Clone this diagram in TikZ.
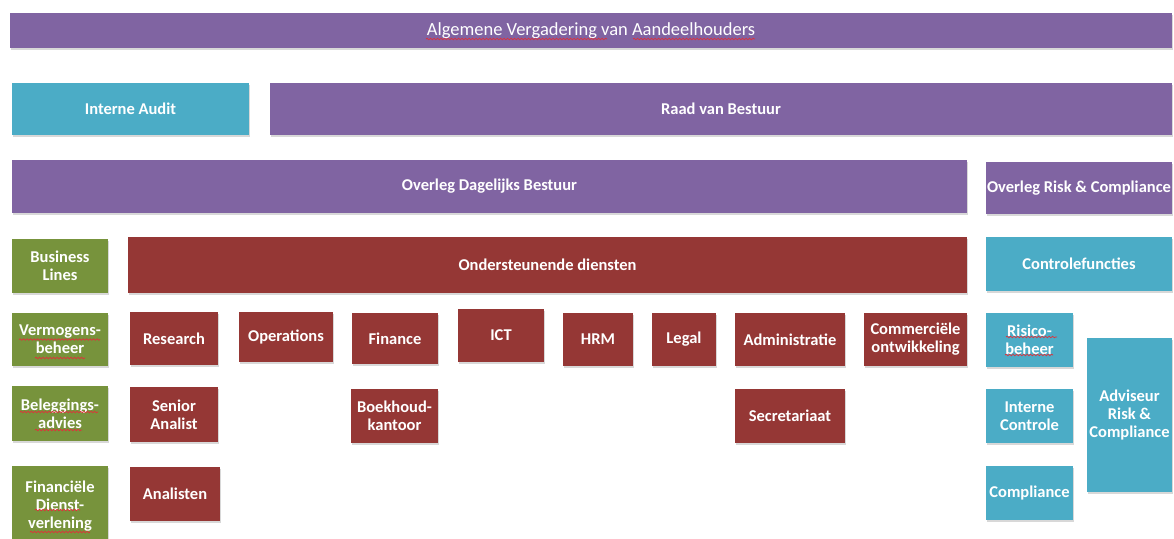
\documentclass[tikz,border=0pt]{standalone}
\usepackage{fontspec}
\setmainfont{Carlito}
\usetikzlibrary{shadows, decorations.pathmorphing}
\definecolor{paars}{HTML}{8064A2}
\definecolor{blauw}{HTML}{4BACC6}
\definecolor{groen}{HTML}{77933C}
\definecolor{rood}{HTML}{953735}
\definecolor{spelrood}{HTML}{E0303A}
\tikzset{
  blok/.style={rectangle, inner sep=1pt, text=white, align=center,
    font=\bfseries\fontsize{16.5}{18}\selectfont,
    drop shadow={shadow xshift=1pt, shadow yshift=-2pt, opacity=0.3}},
  wh/.style n args={2}{minimum width=#1, minimum height=#2},
  % rode kronkel van de spellingcontrole
  kronkel/.style={draw=spelrood, line width=0.7pt, decorate,
    decoration={snake, segment length=3.5pt, amplitude=0.8pt}},
}
\begin{document}
\begin{tikzpicture}[x=1pt, y=-1pt]
  \useasboundingbox[fill=white] (0,0) rectangle (1174,538);
  % bestuur
  \node[blok, fill=paars, wh={1162}{35}, font=\fontsize{18.5}{20}\selectfont] (avg) at (591,30.5) {Algemene Vergadering van Aandeelhouders};
  \node[blok, fill=blauw, wh={237}{52}] (audit) at (130.5,109) {Interne Audit};
  \node[blok, fill=paars, wh={902}{52}] (rvb) at (721,109) {Raad van Bestuur};
  \node[blok, fill=paars, wh={955}{53}] (odb) at (489.5,186.5) {Overleg Dagelijks Bestuur};
  \node[blok, fill=paars, wh={186}{52}] (orc) at (1079,188) {Overleg Risk \& Compliance};
  % kopjes
  \node[blok, fill=groen, wh={96}{54}] (lines) at (60,266) {Business\\Lines};
  \node[blok, fill=rood, wh={839}{56}] (diensten) at (547.5,265) {Ondersteunende diensten};
  \node[blok, fill=blauw, wh={186}{54}] (controle) at (1079,264) {Controlefuncties};
  % business lines
  \node[blok, fill=groen, wh={96}{53}] (verm) at (60,339.5) {Vermogens-\\beheer};
  \node[blok, fill=groen, wh={96}{55}] (beleg) at (60,413.5) {Beleggings-\\advies};
  \node[blok, fill=groen, wh={96}{80}] (fds) at (60,506) {Financi\"ele\\Dienst-\\verlening};
  % ondersteunende diensten
  \node[blok, fill=rood, wh={88}{53}] (research) at (174,338.5) {Research};
  \node[blok, fill=rood, wh={94}{50}] (operations) at (286,337) {Operations};
  \node[blok, fill=rood, wh={86}{51}] (finance) at (395,338.5) {Finance};
  \node[blok, fill=rood, wh={86}{53}] (ict) at (501,335.5) {ICT};
  \node[blok, fill=rood, wh={70}{53}] (hrm) at (598,339.5) {HRM};
  \node[blok, fill=rood, wh={64}{53}] (legal) at (684,339.5) {Legal};
  \node[blok, fill=rood, wh={110}{53}] (admin) at (790,339.5) {Administratie};
  \node[blok, fill=rood, wh={103}{53}] (comm) at (915.5,339.5) {Commerci\"ele\\ontwikkeling};
  \node[blok, fill=rood, wh={88}{55}] (senior) at (174,414.5) {Senior\\Analist};
  \node[blok, fill=rood, wh={90}{54}] (analisten) at (175,494) {Analisten};
  \node[blok, fill=rood, wh={87}{54}] (boekh) at (394.5,416) {Boekhoud-\\kantoor};
  \node[blok, fill=rood, wh={110}{54}] (secr) at (790,416) {Secretariaat};
  % controlefuncties
  \node[blok, fill=blauw, wh={87}{54}] (risico) at (1029.5,340) {Risico-\\beheer};
  \node[blok, fill=blauw, wh={87}{54}] (intcontr) at (1029.5,416) {Interne\\Controle};
  \node[blok, fill=blauw, wh={87}{54}] (compl) at (1029.5,493) {Compliance};
  \node[blok, fill=blauw, wh={85}{154}] (adviseur) at (1129.5,415) {Adviseur\\Risk \&\\Compliance};
  % spellingcontrole
  \draw[kronkel] ([shift={(-165,8.5)}]avg.center) -- ++(181,0);
  \draw[kronkel] ([shift={(42,8.5)}]avg.center) -- ++(122,0);
  \draw[kronkel] ([shift={(-41,0)}]verm.center) -- ++(81,0);
  \draw[kronkel] ([shift={(-25,18.5)}]verm.center) -- ++(50,0);
  \draw[kronkel] ([shift={(-40,-1.5)}]beleg.center) -- ++(78,0);
  \draw[kronkel] ([shift={(-25,16.5)}]beleg.center) -- ++(47,0);
  \draw[kronkel] ([shift={(-25,4)}]fds.center) -- ++(45,0);
  \draw[kronkel] ([shift={(-30,26)}]fds.center) -- ++(60,0);
  \draw[kronkel] ([shift={(-23.5,-3)}]risico.center) -- ++(51,0);
  \draw[kronkel] ([shift={(-24.5,15)}]risico.center) -- ++(48,0);
\end{tikzpicture}
\end{document}
